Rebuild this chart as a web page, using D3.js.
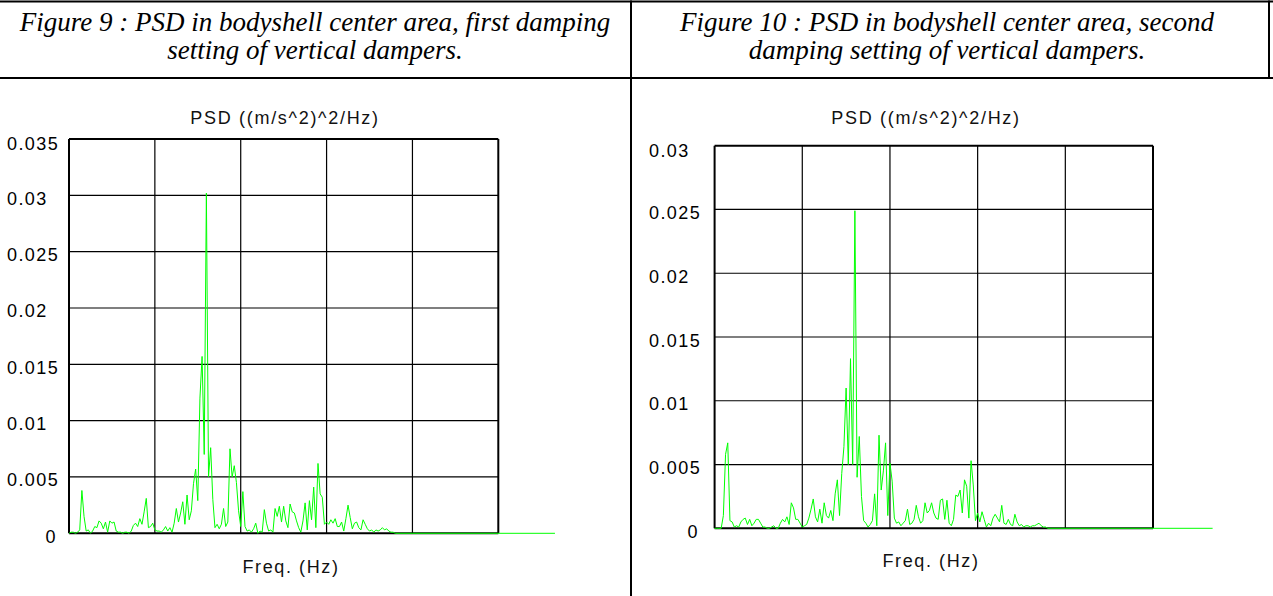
<!DOCTYPE html>
<html><head><meta charset="utf-8">
<script src="https://cdn.jsdelivr.net/npm/d3@7"></script>
<style>
html,body{margin:0;padding:0;background:#fff;}
svg{display:block;}
</style></head><body>
<svg id="c" width="1273" height="596"></svg>
<script>
// ---------------- data ----------------
const captionLeft = ["Figure 9 : PSD in bodyshell center area, first damping", "setting of vertical dampers."];
const captionRight = ["Figure 10 : PSD in bodyshell center area, second", "damping setting of vertical dampers."];
const yTitle = "PSD ((m/s^2)^2/Hz)";
const xTitle = "Freq. (Hz)";

const freqDomain = [0, 50];
const freqGrid = [0, 10, 20, 30, 40, 50];
const freqStep = 0.25;          // spacing of the PSD bins

const leftTicks = [0, 0.005, 0.01, 0.015, 0.02, 0.025, 0.03, 0.035];
const leftTickLabels = ["0", "0.005", "0.01", "0.015", "0.02", "0.025", "0.03", "0.035"];
const rightTicks = [0, 0.005, 0.01, 0.015, 0.02, 0.025, 0.03];
const rightTickLabels = ["0", "0.005", "0.01", "0.015", "0.02", "0.025", "0.03"];

// Figure 9 – first damping setting
const leftPsd = [
0,0.0001,0.0001,0,0.0001,0.0003,0.0038,0.0015,0.0002,0.0003,
0,0.0002,0.0006,0.0005,0.0011,0.0009,0.0004,0.0010,0.0001,0.0011,
0.0009,0.0010,0.0002,0.0001,0.0001,0,0.0001,0.0001,0,0.0002,
0.0007,0.0009,0.0006,0.0013,0.0008,0.0019,0.0031,0.0005,0.0006,0.0009,
0.0003,0.0002,0.0002,0.0001,0.0003,0.0006,0.0002,0.0005,0.0001,0.0009,
0.0022,0.0010,0.0018,0.0028,0.0008,0.0034,0.0012,0.0020,0.0044,0.0057,
0.0029,0.0120,0.0157,0.0070,0.0302,0.0050,0.0076,0.0030,0.0005,0.0008,
0.0004,0.0008,0.0022,0.0006,0.0010,0.0075,0.0050,0.0060,0.0045,0.0020,
0.0006,0.0037,0.0006,0.0002,0.0003,0.0001,0.0004,0.0009,0,0.0002,
0.0001,0.0021,0.0009,0.0002,0.0003,0.0001,0.0022,0.0015,0.0024,0.0010,
0.0024,0.0011,0.0005,0.0026,0.0019,0.0018,0.0011,0.0005,0.0001,0.0011,
0.0027,0.0003,0.0029,0.0012,0.0041,0.0005,0.0062,0.0035,0.0032,0.0008,
0.0010,0.0008,0.0012,0.0009,0.0013,0.0006,0.0006,0.0010,0.0002,0.0013,
0.0025,0.0014,0.0004,0.0009,0.0010,0.0005,0.0003,0.0012,0.0008,0.0004,
0.0002,0.0003,0.0001,0.0003,0.0002,0.0003,0.0005,0.0003,0.0004,0.0002,
0.0001,0.0001,0
];
const leftTailFreq = 56.6;

// Figure 10 – second damping setting
const rightPsd = [
0,0,0,0,0.0010,0.0058,0.0067,0.0006,0.0005,0.0001,
0.0002,0.0001,0.0005,0.0007,0.0008,0.0003,0.0007,0.0002,0.0004,0.0007,
0.0007,0.0004,0.0001,0.0001,0,0,0.0001,0.0002,0,0,
0.0004,0.0007,0.0005,0.0009,0.0003,0.0020,0.0016,0.0007,0.0007,0.0004,
0.0001,0.0002,0.0003,0.0008,0.0015,0.0023,0.0009,0.0005,0.0015,0.0004,
0.0020,0.0010,0.0008,0.0014,0.0006,0.0027,0.0038,0.0010,0.0043,0.0064,
0.0110,0.0050,0.0133,0.0050,0.0249,0.0040,0.0072,0.0025,0.0006,0.0004,
0.0001,0.0003,0.0006,0.0027,0.0002,0.0073,0.0030,0.0045,0.0067,0.0010,
0.0051,0.0037,0.0008,0.0004,0.0005,0.0002,0.0004,0.0006,0.0015,0.0003,
0.0004,0.0007,0.0018,0.0009,0.0004,0.0006,0.0020,0.0012,0.0014,0.0020,
0.0012,0.0008,0.0007,0.0022,0.0023,0.0007,0.0022,0.0004,0.0002,0.0007,
0.0026,0.0025,0.0030,0.0012,0.0038,0.0033,0.0008,0.0053,0.0034,0.0006,
0.0012,0.0005,0.0013,0.0007,0.0001,0.0004,0.0002,0.0008,0.0011,0.0008,
0.0005,0.0018,0.0004,0.0003,0.0007,0.0003,0.0002,0.0011,0.0005,0.0002,
0.0003,0.0001,0.0002,0.0002,0.0001,0.0002,0.0002,0.0003,0.0004,0.0002,
0.0001,0.0001,0
];
const rightTailFreq = 56.8;

// ---------------- drawing ----------------
const svg = d3.select("#c");
const FONT = "'Liberation Sans', Arial, sans-serif";
const SERIF = "'Liberation Serif', 'Times New Roman', serif";

// table borders
const table = svg.append("g").attr("stroke", "#000").attr("fill", "none");
table.append("line").attr("x1", 0).attr("x2", 1273).attr("y1", 1.5).attr("y2", 1.5).attr("stroke-width", 2);
table.append("line").attr("x1", 0).attr("x2", 1273).attr("y1", 78).attr("y2", 78).attr("stroke-width", 2);
table.append("line").attr("x1", 631).attr("x2", 631).attr("y1", 0.5).attr("y2", 596).attr("stroke-width", 2);
table.append("line").attr("x1", 1269).attr("x2", 1269).attr("y1", 0.5).attr("y2", 79).attr("stroke-width", 2);

function caption(lines, cx) {
  const t = svg.append("text").attr("font-family", SERIF).attr("font-style", "italic")
    .attr("font-size", 27).attr("text-anchor", "middle").attr("fill", "#000");
  lines.forEach((s, i) => t.append("tspan").attr("x", cx).attr("y", 30.5 + i * 28.5).text(s));
}
caption(captionLeft, 315);
caption(captionRight, 947);

function panel(cfg) {
  const x = d3.scaleLinear().domain(freqDomain).range([cfg.x0, cfg.x1]);
  const y = d3.scaleLinear().domain([0, cfg.ticks[cfg.ticks.length - 1]]).range([cfg.yZero, cfg.yTop]);
  const g = svg.append("g");

  // horizontal grid
  g.selectAll(".hg").data(cfg.ticks).join("line")
    .attr("x1", x(freqDomain[0])).attr("x2", x(freqDomain[1]))
    .attr("y1", d => y(d)).attr("y2", d => y(d))
    .attr("stroke", "#000").attr("stroke-width", (d, i) => (i === 0 || i === cfg.ticks.length - 1) ? 2 : 1.2);
  // vertical grid
  g.selectAll(".vg").data(freqGrid).join("line")
    .attr("x1", d => x(d)).attr("x2", d => x(d))
    .attr("y1", y.range()[1]).attr("y2", y.range()[0])
    .attr("stroke", "#000").attr("stroke-width", (d, i) => (i === 0 || i === freqGrid.length - 1) ? 2 : 1.2);

  // tick labels
  g.selectAll(".tl").data(cfg.ticks).join("text")
    .attr("x", d => d === 0 ? cfg.labelX + 38.5 : cfg.labelX)
    .attr("y", (d, i) => y(d) + (i === cfg.ticks.length - 1 ? 11 : 9.5))
    .attr("font-family", FONT).attr("font-size", 18).attr("letter-spacing", "1.4px")
    .attr("fill", "#000")
    .text((d, i) => cfg.tickLabels[i]);

  // titles
  g.append("text").attr("x", cfg.titleX).attr("y", cfg.titleY).attr("text-anchor", "middle")
    .attr("font-family", FONT).attr("font-size", 18).attr("letter-spacing", "1.7px").attr("fill", "#111")
    .text(yTitle);
  g.append("text").attr("x", cfg.xTitleX).attr("y", cfg.xTitleY).attr("text-anchor", "middle")
    .attr("font-family", FONT).attr("font-size", 18).attr("letter-spacing", "1.6px").attr("fill", "#111")
    .text(xTitle);

  // PSD line
  const pts = cfg.values.map((v, i) => [i * freqStep, v]);
  pts.push([cfg.tail, 0]);
  g.append("path").datum(pts)
    .attr("fill", "none").attr("stroke", "#00ff00").attr("stroke-width", 1)
    .attr("d", d3.line().x(d => x(d[0])).y(d => y(d[1])));
}

panel({x0: 69, x1: 498.3, yTop: 139, yZero: 533.3, ticks: leftTicks, tickLabels: leftTickLabels,
       labelX: 7, titleX: 285, titleY: 123.5, xTitleX: 291, xTitleY: 573, values: leftPsd, tail: leftTailFreq});
panel({x0: 714.6, x1: 1153, yTop: 145.7, yZero: 528.3, ticks: rightTicks, tickLabels: rightTickLabels,
       labelX: 649, titleX: 926, titleY: 124, xTitleX: 931, xTitleY: 567, values: rightPsd, tail: rightTailFreq});
</script>
</body></html>
